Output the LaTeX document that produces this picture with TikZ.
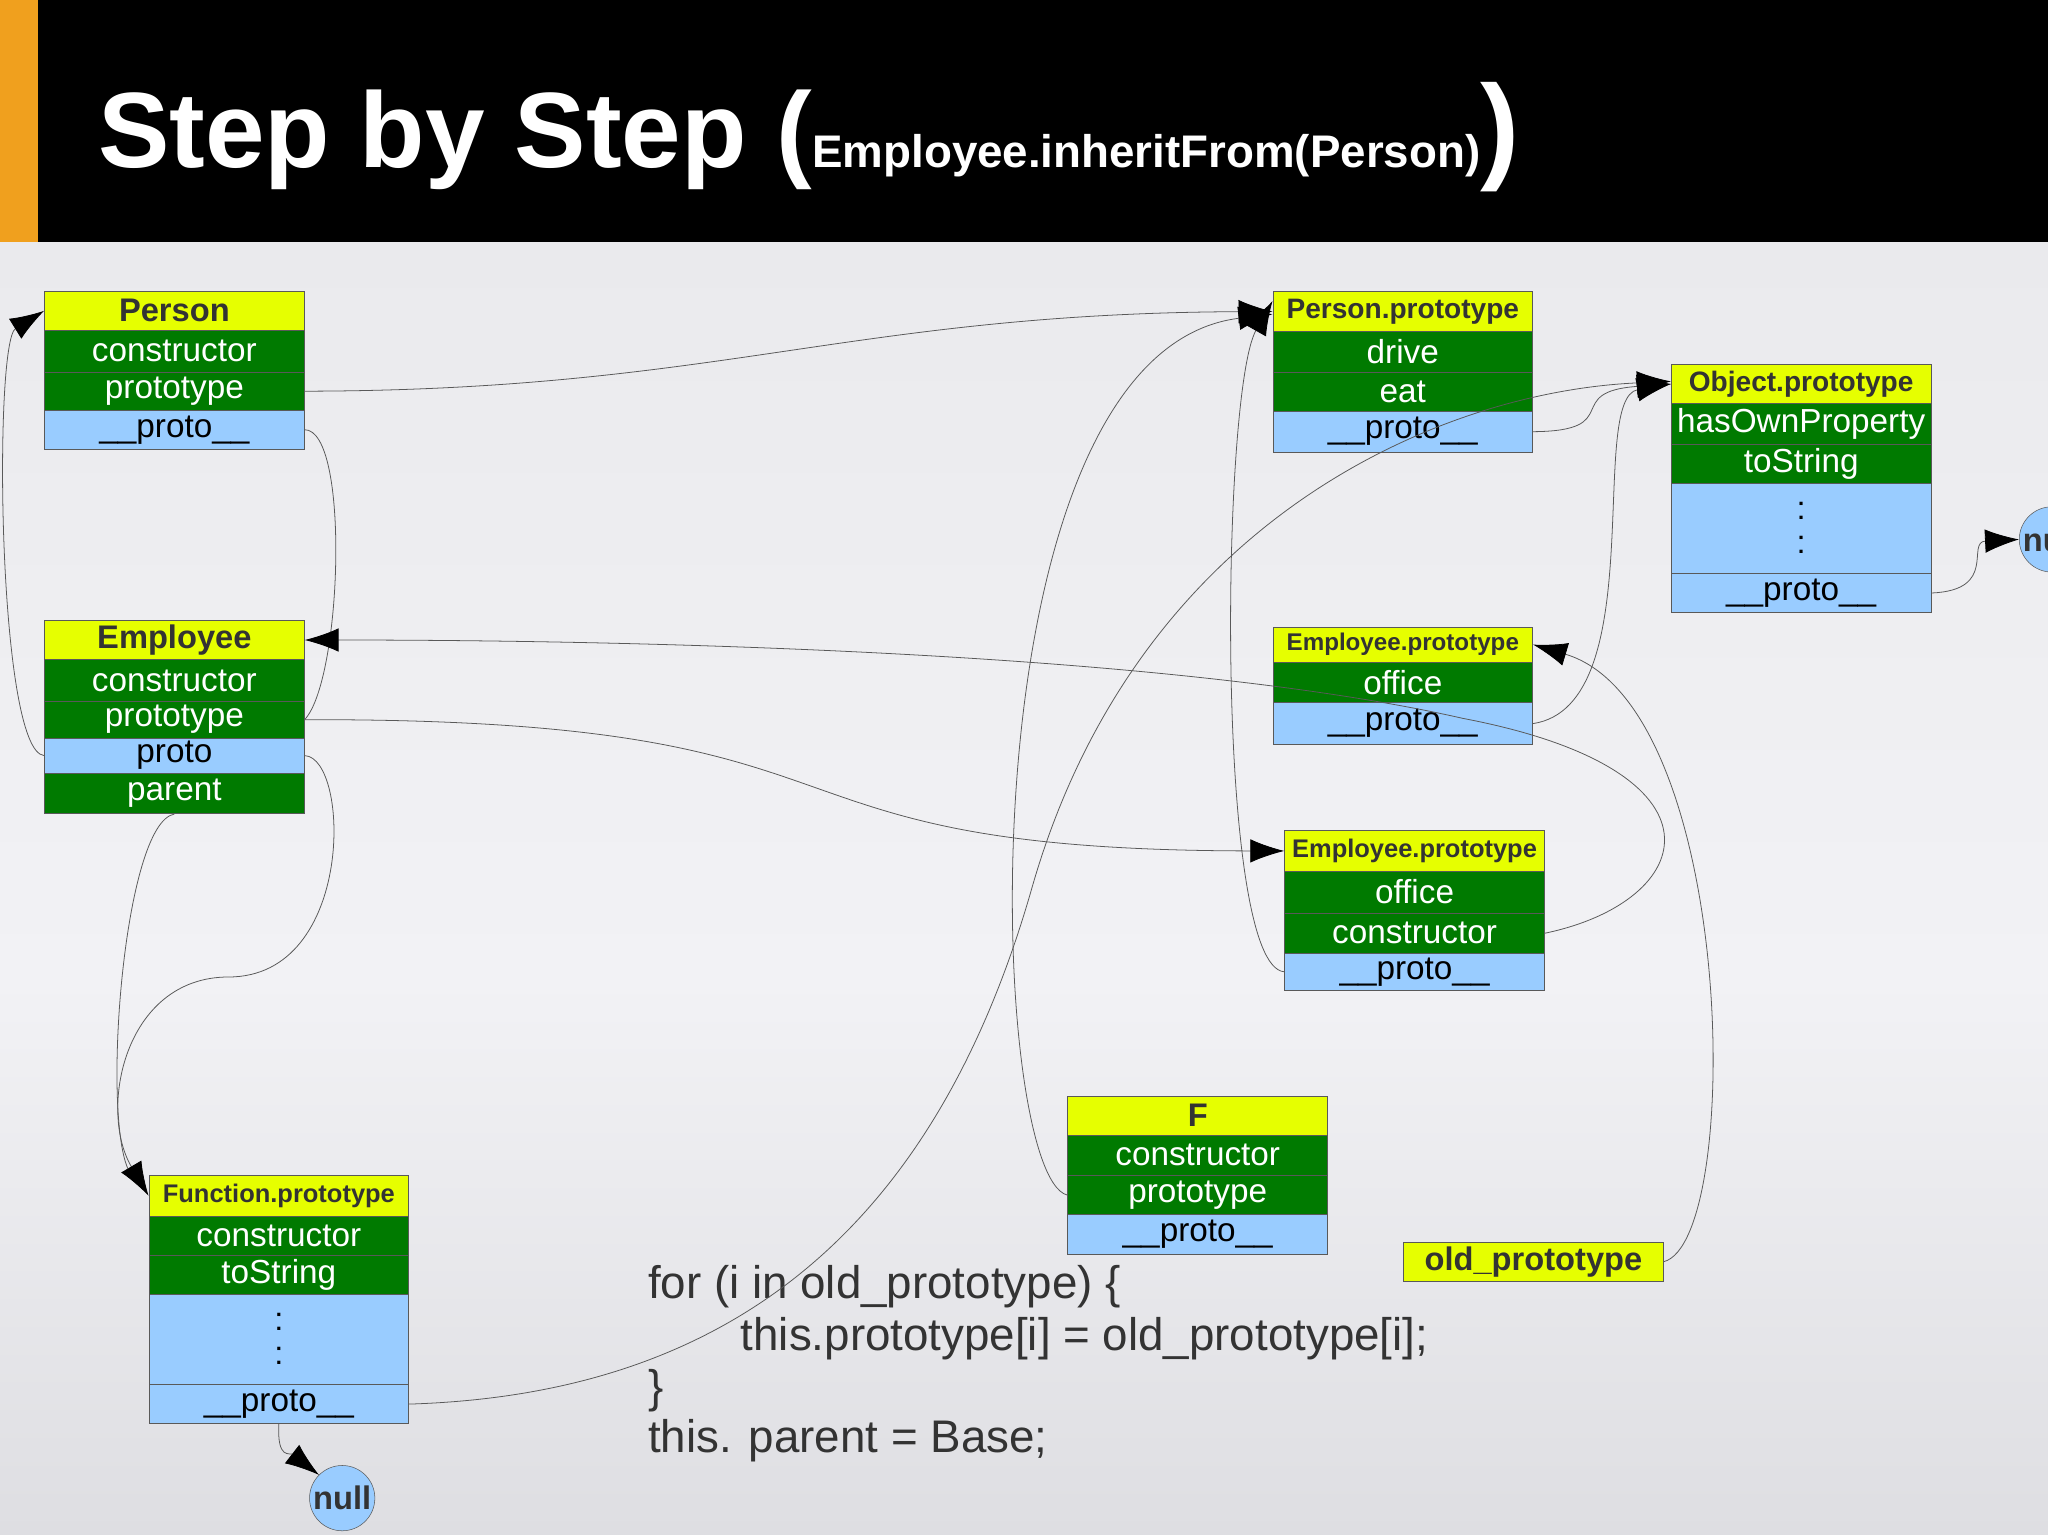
\documentclass[tikz,border=0pt]{standalone}
\usepackage{fontspec}
\setmainfont{Liberation Sans}
\usetikzlibrary{arrows.meta}
\definecolor{hy}{RGB}{230,255,0}
\definecolor{hg}{RGB}{0,122,0}
\definecolor{hb}{RGB}{153,204,255}
\definecolor{ink}{RGB}{51,51,51}
\definecolor{orng}{RGB}{240,160,30}
\definecolor{bgtop}{RGB}{234,234,237}
\definecolor{bgmid}{RGB}{242,242,245}
\definecolor{bgbot}{RGB}{222,222,226}
\tikzset{
 cell/.style={draw=gray!70!black, line width=0.5pt, minimum width=199pt, inner sep=0pt, anchor=center},
 hdr/.style={cell, fill=hy, text=ink, font=\bfseries\fontsize{25}{25}\selectfont},
 hdrs/.style={hdr, font=\bfseries\fontsize{19.5}{20}\selectfont},
 grn/.style={cell, fill=hg, text=white, font=\fontsize{25.5}{25}\selectfont},
 blu/.style={cell, fill=hb, text=black, font=\fontsize{25.5}{25}\selectfont},
 dotsn/.style={inner sep=0pt, text=black, font=\fontsize{25}{25}\selectfont},
 nul/.style={circle, draw=gray!70!black, fill=hb, minimum size=50pt, inner sep=0pt, text=ink, font=\bfseries\fontsize{25}{25}\selectfont},
 link/.style={draw=black!65, line width=0.6pt},
 arr/.style={link, -{Latex[length=26pt,width=18pt,color=black,fill=black]}},
 code/.style={anchor=west, inner sep=0pt, text=ink, font=\fontsize{35}{35}\selectfont}
}
\begin{document}
\begin{tikzpicture}[x=1pt,y=-1pt]
\useasboundingbox (0,0) rectangle (1568,1175);
\shade[top color=bgtop, bottom color=bgmid] (0,185) rectangle (1568,750);
\shade[top color=bgmid, bottom color=bgbot] (0,750) rectangle (1568,1175);
\fill[black] (0,0) rectangle (1568,185);
\fill[orng] (0,0) rectangle (29,185);
\node[anchor=base west, inner sep=0pt, text=white] (title) at (75,128)
 {\fontsize{82}{82}\selectfont\bfseries Step by Step (\fontsize{35}{35}\selectfont Employee.inheritFrom(Person)\fontsize{90}{90}\selectfont)};

% Person
\node[hdr, minimum height=30pt] (ph) at (133.5,238) {Person};
\node[grn, minimum height=32pt] (pc) at (133.5,269) {constructor};
\node[grn, minimum height=29pt] (pp) at (133.5,299.5) {prototype};
\node[blu, minimum height=30pt] (ppr) at (133.5,329) {\_\_proto\_\_};
% Employee
\node[hdr, minimum height=30pt] (eh) at (133.5,490) {Employee};
\node[grn, minimum height=32pt] (ec) at (133.5,521) {constructor};
\node[grn, minimum height=28pt] (ep) at (133.5,551) {prototype};
\node[blu, minimum height=27pt] (epr) at (133.5,578.5) {proto};
\node[grn, minimum height=31pt] (epa) at (133.5,607.5) {parent};
% Function.prototype
\node[hdrs, minimum height=31pt] (fh) at (213.5,915.5) {Function.prototype};
\node[grn, minimum height=30pt] (fc) at (213.5,946) {constructor};
\node[grn, minimum height=30pt] (ft) at (213.5,976) {toString};
\node[blu, minimum height=69pt] (fd) at (213.5,1025.5) {};
\node[dotsn] (fd1) at (213.5,1012) {:};
\node[dotsn] (fd2) at (213.5,1038) {:};
\node[blu, minimum height=30pt] (fpr) at (213.5,1075) {\_\_proto\_\_};
\node[nul] (null1) at (262,1147) {null};
% Person.prototype
\node[hdrs, font=\bfseries\fontsize{21.5}{22}\selectfont, minimum height=31pt] (pph) at (1074,238.5) {Person.prototype};
\node[grn, minimum height=31pt] (ppd) at (1074,269.5) {drive};
\node[grn, minimum height=30pt] (ppe) at (1074,300) {eat};
\node[blu, minimum height=31pt] (pppr) at (1074,330.5) {\_\_proto\_\_};
% Object.prototype
\node[hdrs, font=\bfseries\fontsize{21.5}{22}\selectfont, minimum height=30pt] (oh) at (1379,294) {Object.prototype};
\node[grn, minimum height=31pt] (oo) at (1379,324.5) {hasOwnProperty};
\node[grn, minimum height=30pt] (ot) at (1379,355) {toString};
\node[blu, minimum height=69pt] (od) at (1379,404.5) {};
\node[dotsn] (od1) at (1379,391) {:};
\node[dotsn] (od2) at (1379,417) {:};
\node[blu, minimum height=30pt] (opr) at (1379,454) {\_\_proto\_\_};
\node[nul] (null2) at (1571,413) {null};
% Employee.prototype 1
\node[hdrs, font=\bfseries\fontsize{18.5}{19}\selectfont, minimum height=27pt] (e1h) at (1074,493.5) {Employee.prototype};
\node[grn, minimum height=31pt] (e1o) at (1074,522.5) {office};
\node[blu, minimum height=32pt] (e1pr) at (1074,554) {\_\_proto\_\_};
% Employee.prototype 2
\node[hdrs, minimum height=31pt] (e2h) at (1083,651.5) {Employee.prototype};
\node[grn, minimum height=32pt] (e2o) at (1083,683) {office};
\node[grn, minimum height=31pt] (e2c) at (1083,714.5) {constructor};
\node[blu, minimum height=28pt] (e2pr) at (1083,744) {\_\_proto\_\_};
% F
\node[hdr, minimum height=30pt] (fFh) at (917,854) {F};
\node[grn, minimum height=31pt] (fFc) at (917,884.5) {constructor};
\node[grn, minimum height=30pt] (fFp) at (917,915) {prototype};
\node[blu, minimum height=30pt] (fFpr) at (917,945) {\_\_proto\_\_};
% old_prototype
\node[hdr, minimum height=30pt] (old) at (1174,966) {old\_prototype};
% code
\node[code] (l1) at (496,985) {for (i in old\_prototype) \{};
\node[code] (l2) at (567,1025) {this.prototype[i] = old\_prototype[i];};
\node[code] (l3) at (496,1065) {\}};
\node[code] (l4) at (496,1103) {this. parent = Base;};

% connectors
\draw[arr] (pp.east) .. controls (550,299) and (650,240) .. (pph.west);
\draw[link] (ppr.east) .. controls (268,329) and (262,520) .. (ep.east);
\draw[arr] (ep.east) .. controls (700,550) and (550,651) .. (e2h.west);
\draw[arr] (epr.west) .. controls (-2,575) and (-5,262) .. (ph.west);
\draw[arr] (epr.east) .. controls (268,580) and (272,748) .. (175,748) .. controls (95,748) and (75,850) .. (fh.west);
\draw[link] (epa.south) .. controls (95,630) and (78,850) .. (98,895);
\draw[arr] (e2c.east) .. controls (1300,690) and (1330,590) .. (1120,550) .. controls (900,500) and (500,490) .. (eh.east);
\draw[arr] (pppr.east) .. controls (1245,330) and (1195,300) .. (oh.west);
\draw[arr] (e1pr.east) .. controls (1265,540) and (1215,305) .. (oh.west);
\draw[arr] (opr.east) .. controls (1530,452) and (1505,415) .. (null2.west);
\draw[arr] (e2pr.west) .. controls (930,740) and (935,300) .. ([yshift=8pt]pph.west);
\draw[arr] (fFp.west) .. controls (755,900) and (735,270) .. ([yshift=-2pt]pph.west);
\draw[arr] (fpr.east) .. controls (540,1068) and (710,960) .. (790,680) .. controls (870,400) and (1100,300) .. ([yshift=2pt]oh.west);
\draw[arr] (fpr.south) .. controls (212,1118) and (222,1112) .. (null1.north west);
\draw[arr] (old.east) .. controls (1335,950) and (1330,540) .. (e1h.east);
\end{tikzpicture}
\end{document}
